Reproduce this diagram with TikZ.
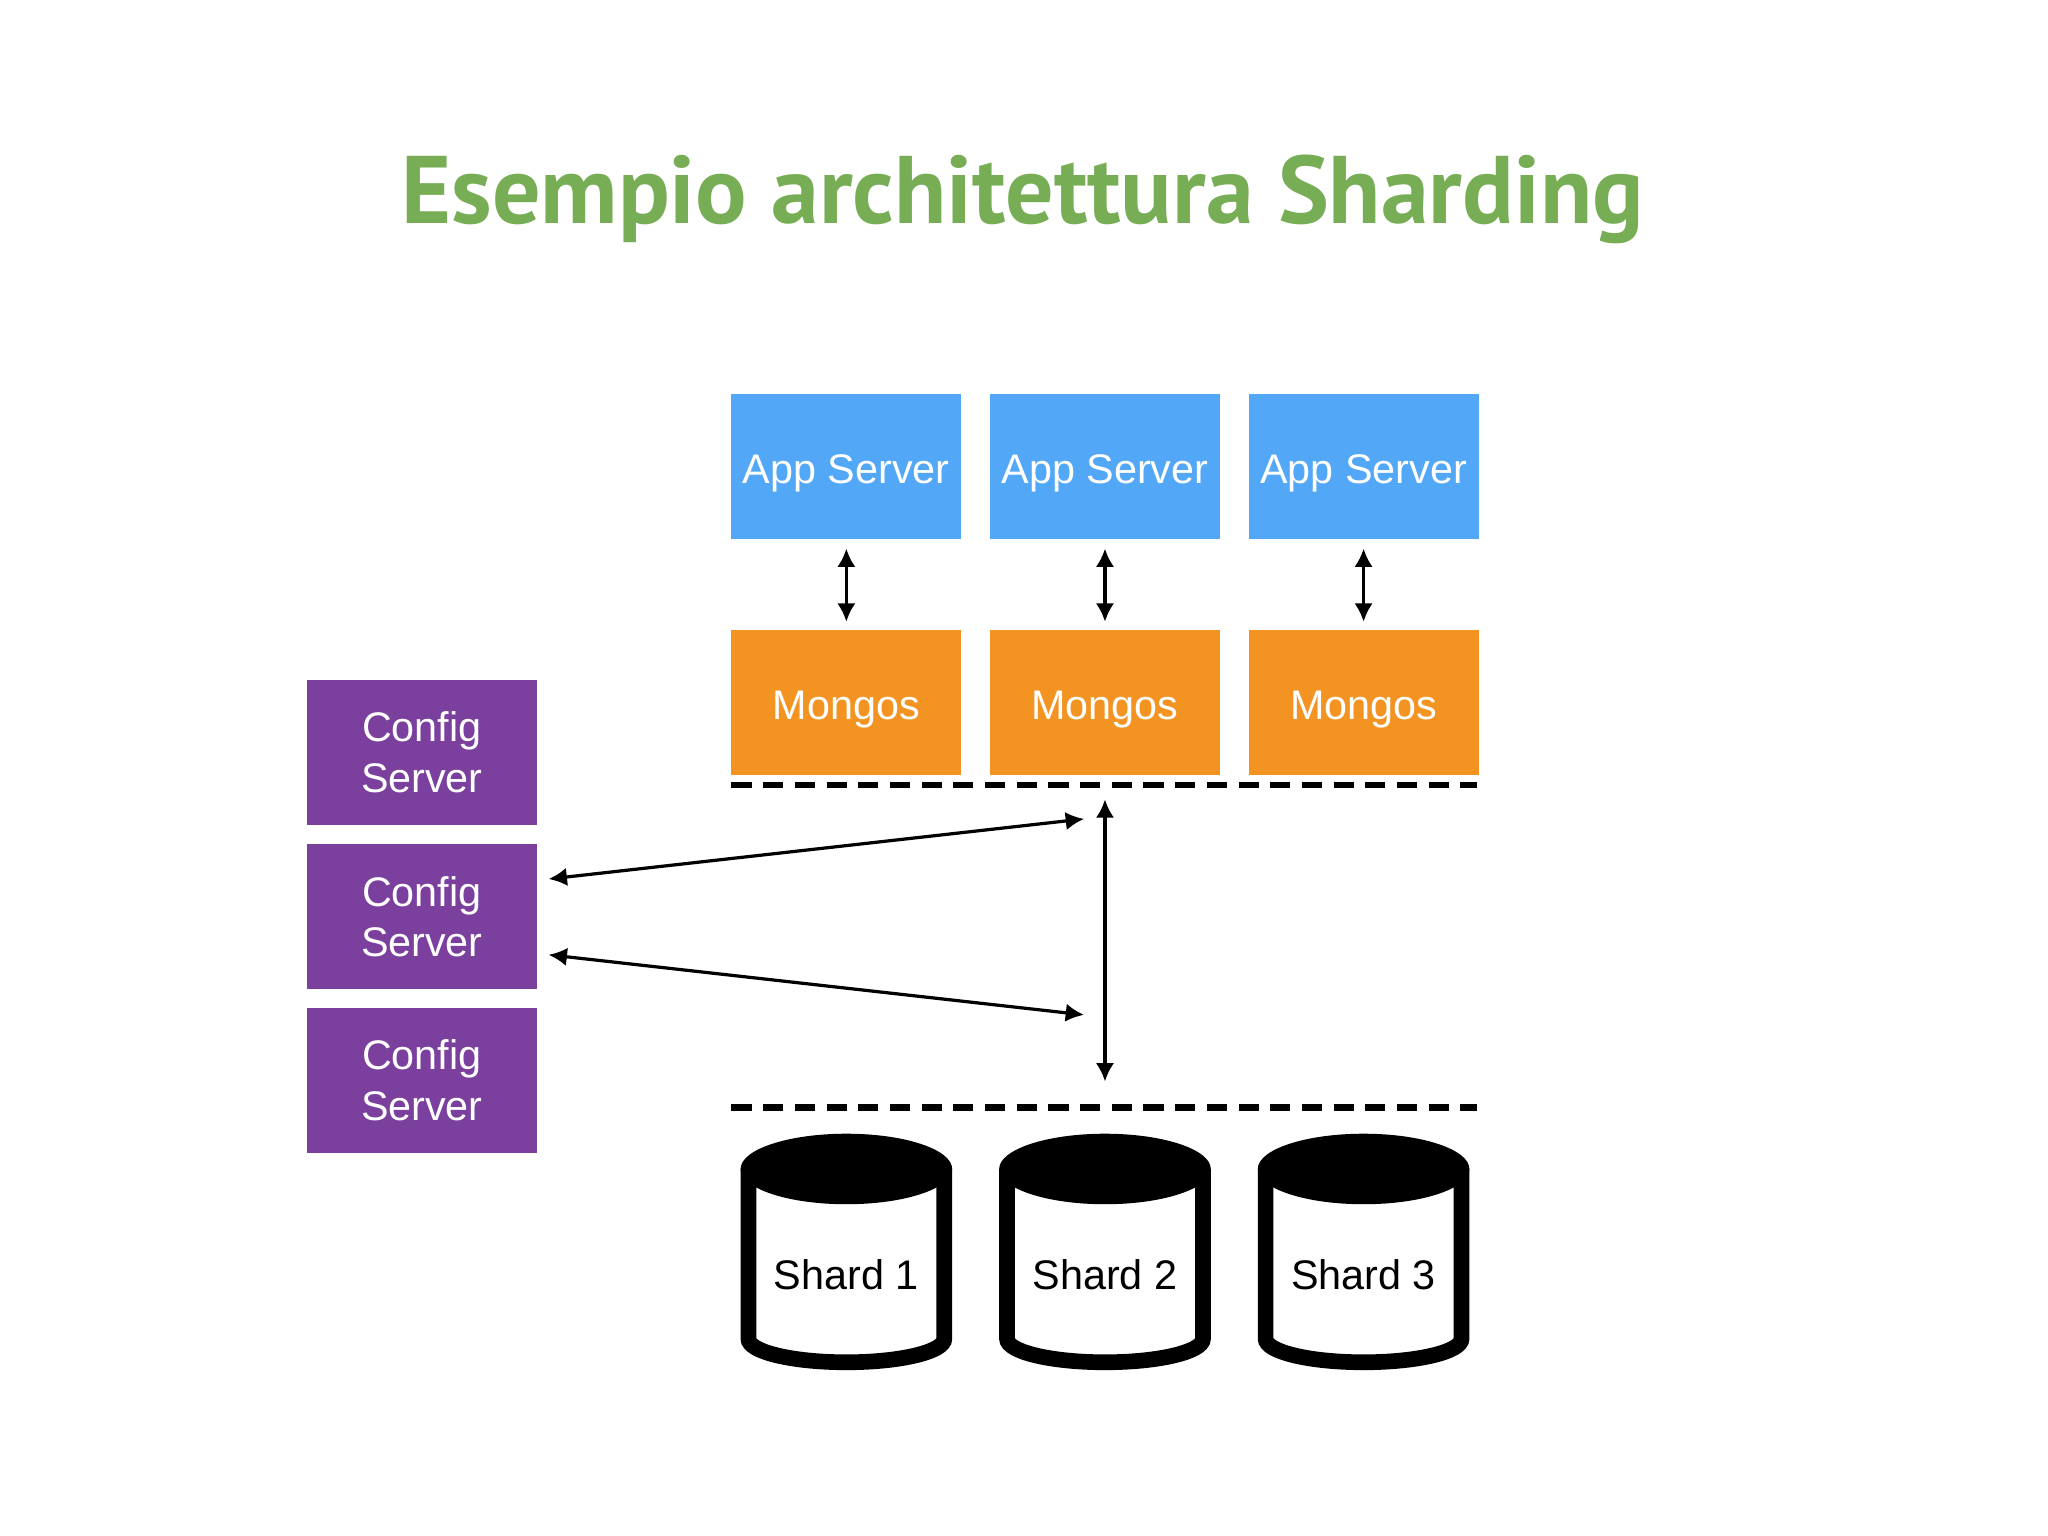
\documentclass[tikz,border=0pt]{standalone}
\usepackage{fontspec}
\setmainfont{Liberation Sans}
\newfontfamily\titlefont{PT Sans}
\usetikzlibrary{arrows.meta}
\definecolor{tgreen}{HTML}{77AD55}
\definecolor{appblue}{HTML}{52A7F7}
\definecolor{morange}{HTML}{F39322}
\definecolor{cpurple}{HTML}{7B3F9E}
\begin{document}
\begin{tikzpicture}[x=0.01cm,y=-0.01cm,
  box/.style={minimum width=1.76cm,minimum height=1.11cm,inner sep=0pt,text=white,font=\fontsize{9}{11}\selectfont,align=center},
  lab/.style={text=white,font=\fontsize{9}{11}\selectfont,align=center,yshift=-1.5pt},
  app/.style={box,fill=appblue},
  mg/.style={box,fill=morange},
  cfg/.style={box,fill=cpurple},
  arr/.style={line width=0.7pt,{Latex[length=4pt,width=4pt]}-{Latex[length=4pt,width=4pt]}},
  dashline/.style={line width=1.4pt,dash pattern=on 4.4pt off 2.5pt}]
\useasboundingbox (0,0) rectangle (1568,1176);
\node[font=\titlefont\bfseries\fontsize{20.9}{24}\selectfont,text=tgreen] (title) at (783,153) {Esempio architettura Sharding};
\foreach \i/\x in {1/648,2/846,3/1044}{
  \node[app,label={[lab]center:App Server}] (a\i) at (\x,357) {};
  \node[mg,label={[lab]center:Mongos}] (m\i) at (\x,538) {};
  \draw[arr] (\x,420) -- (\x,476);
}
\foreach \i/\y in {1/576,2/702,3/827}{
  \node[cfg] (c\i) at (323,\y) {Config\\Server};
}
\coordinate (d1l) at (560,601); \coordinate (d1r) at (1131,601);
\coordinate (d2l) at (560,848); \coordinate (d2r) at (1131,848);
\draw[dashline] (d1l) -- (d1r);
\draw[dashline] (d2l) -- (d2r);
\coordinate (v1) at (846,612); \coordinate (v2) at (846,828);
\draw[arr] (v1) -- (v2);
\coordinate (p1) at (420,673); \coordinate (q1) at (830,627);
\coordinate (p2) at (420,731); \coordinate (q2) at (830,777);
\draw[arr] (p1) -- (q1);
\draw[arr] (p2) -- (q2);
\foreach \i/\x in {1/648,2/846,3/1044}{
  \draw[line width=0.12cm,fill=white] (\x-75,895) -- (\x-75,1025) arc[start angle=180,end angle=0,x radius=75,y radius=18] -- (\x+75,895);
  \fill (\x,895) ellipse[x radius=81,y radius=27];
  \node[font=\fontsize{9}{11}\selectfont] (s\i) at (\x,976) {Shard \i};
}
\end{tikzpicture}
\end{document}
